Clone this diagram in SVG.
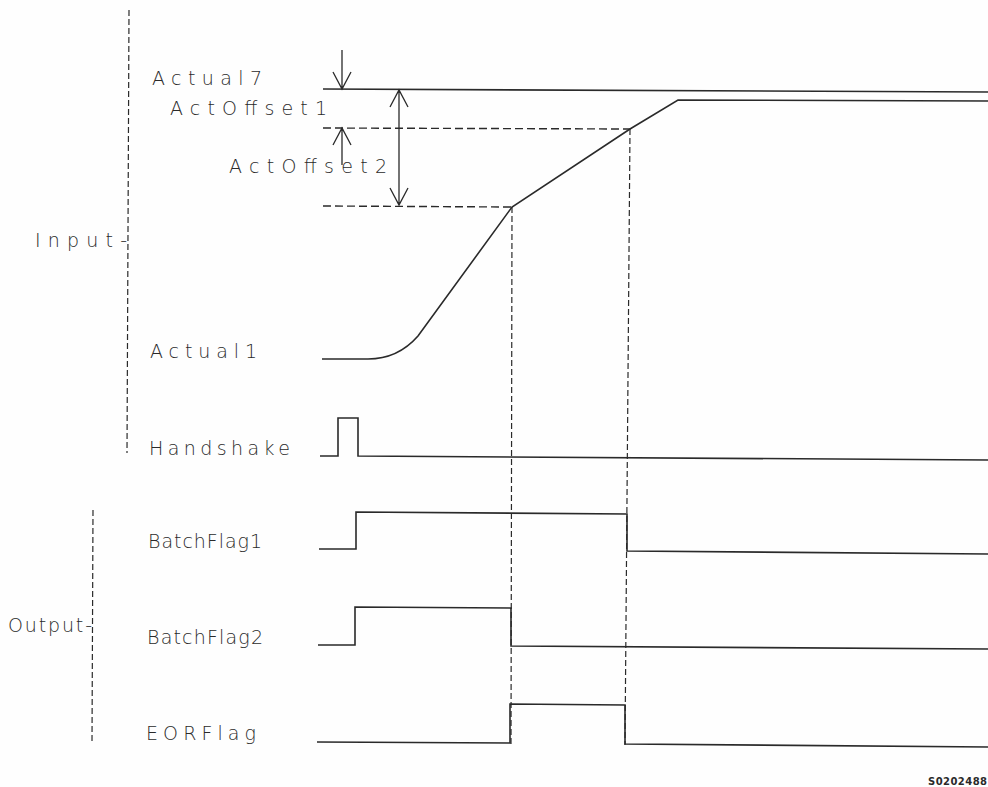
<svg xmlns="http://www.w3.org/2000/svg" width="988" height="787" viewBox="0 0 988 787">
<style>
text{font-family:"DejaVu Sans","Liberation Sans",Arial,sans-serif;font-size:19px;font-weight:200;fill:#2a2a2a}
.sig{fill:none;stroke:#2a2a2a;stroke-width:1.6;stroke-linejoin:miter}
.dash{fill:none;stroke:#2a2a2a;stroke-width:1.4;stroke-dasharray:8 4}
.vdash{fill:none;stroke:#2a2a2a;stroke-width:1.2;stroke-dasharray:6 3}
.arr{fill:none;stroke:#2a2a2a;stroke-width:1.3}
.id{font-family:"DejaVu Sans",sans-serif;font-size:10px;font-weight:bold}
</style>
<rect width="988" height="787" fill="#fefefe"/>
<g id="input-bracket">
<path class="vdash" d="M129,10 L127,453"/>
<text x="35" y="247" textLength="92" lengthAdjust="spacing">Input-</text>
</g>
<g id="output-bracket">
<path class="vdash" d="M93,510 L92,742"/>
<text x="8" y="632" textLength="84" lengthAdjust="spacing">Output-</text>
</g>
<g id="actual7">
<text x="152" y="85" textLength="110" lengthAdjust="spacing">Actual7</text>
<path class="sig" d="M323,89 L988,92"/>
</g>
<g id="actoffset1">
<text x="170" y="115" textLength="157" lengthAdjust="spacing">ActOffset1</text>
</g>
<g id="actoffset2">
<text x="229" y="173" textLength="158" lengthAdjust="spacing">ActOffset2</text>
</g>
<g id="actual1">
<text x="150" y="358" textLength="107" lengthAdjust="spacing">Actual1</text>
<path class="sig" d="M322,359 L368,359 C388,359 404,352 418,336 L512,207 L630,129 L678,100 L988,101"/>
</g>
<g id="handshake">
<text x="149" y="455" textLength="141" lengthAdjust="spacing">Handshake</text>
<path class="sig" d="M320,456 L338,456 L338,418 L358,418 L358,456 L988,460"/>
</g>
<g id="batchflag1">
<text x="148" y="548" textLength="114" lengthAdjust="spacing">BatchFlag1</text>
<path class="sig" d="M319,549 L356,549 L356,512 L627,514 L627,551 L988,554"/>
</g>
<g id="batchflag2">
<text x="147" y="644" textLength="116" lengthAdjust="spacing">BatchFlag2</text>
<path class="sig" d="M318,645 L355,645 L355,607 L511,608 L511,646 L988,649"/>
</g>
<g id="eorflag">
<text x="146" y="740" textLength="110" lengthAdjust="spacing">EORFlag</text>
<path class="sig" d="M317,742 L510,743 L510,704 L625,705 L625,744 L988,747"/>
</g>
<g id="connectors">
<path class="dash" d="M323,128 L630,129"/>
<path class="dash" d="M323,206 L512,207"/>
<path class="vdash" d="M512,207 L511,745"/>
<path class="vdash" d="M630,129 L625,745"/>
<path class="arr" d="M342,50 L342,89 M333,72 L342,89 L351,72"/>
<path class="arr" d="M399,90 L399,205 M390,107 L399,90 L408,107 M390,188 L399,205 L408,188"/>
<path class="arr" d="M342,165 L342,128 M333,145 L342,128 L351,145"/>
</g>
<text class="id" x="928" y="785" textLength="59" lengthAdjust="spacing">S0202488</text>
</svg>
